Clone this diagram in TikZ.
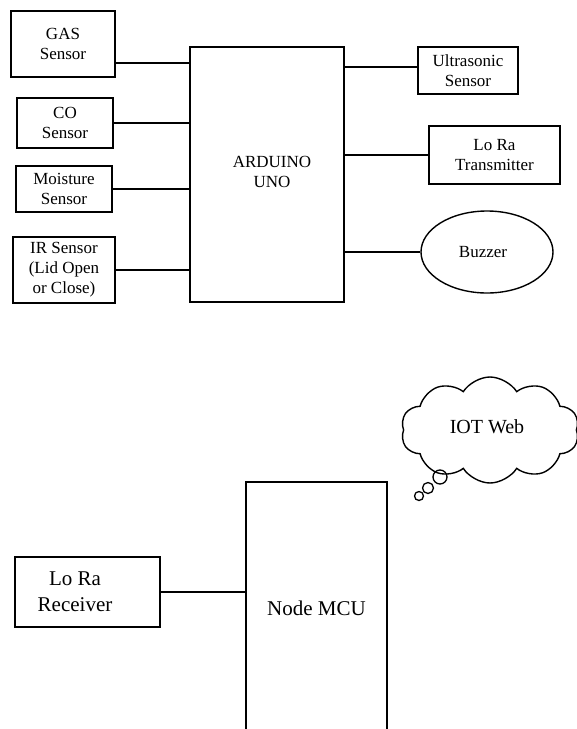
\documentclass[tikz,border=0pt]{standalone}
\usepackage{fontspec}
\setmainfont{Liberation Serif}
\usetikzlibrary{shapes.geometric,shapes.symbols}
\begin{document}
\begin{tikzpicture}[x=1pt,y=-1pt,
  every node/.style={inner sep=0pt},
  topbox/.style={draw, line width=1.4pt, rectangle, align=center,
     font=\fontsize{17}{20}\selectfont},
  botbox/.style={draw, line width=1.4pt, rectangle, align=center,
     font=\fontsize{21}{26}\selectfont},
  botlabel/.style={align=center, font=\fontsize{21}{26}\selectfont},
  wire/.style={line width=1.6pt}]
\useasboundingbox (0,0) rectangle (577,729);
\clip (0,0) rectangle (577,729);
% top part
\node[topbox, minimum width=104pt, minimum height=66pt] (gas) at (63,44) {GAS\\Sensor};
\node[topbox, minimum width=96pt, minimum height=50pt] (co) at (65,123) {CO\\Sensor};
\node[topbox, minimum width=96pt, minimum height=46pt] (moist) at (64,189) {Moisture\\Sensor};
\node[topbox, minimum width=102pt, minimum height=66pt] (ir) at (64,270) {IR Sensor\\(Lid Open\\or Close)};
\node[topbox, minimum width=154pt, minimum height=255pt] (ard) at (267,174.5) {};
\node[align=center, font=\fontsize{17}{20}\selectfont] (ardtxt) at (272,172) {ARDUINO\\UNO};
\node[topbox, minimum width=100pt, minimum height=47pt] (ultra) at (468,70.5) {Ultrasonic\\Sensor};
\node[topbox, minimum width=131pt, minimum height=58pt] (lorat) at (494.5,155) {Lo Ra\\Transmitter};
\node[topbox, ellipse, minimum width=132pt, minimum height=82pt] (buzz) at (487,252) {};
\node[font=\fontsize{17}{20}\selectfont] (buzztxt) at (483,252) {Buzzer};
% connectors top
\draw[wire] ([yshift=-19pt]gas.east) coordinate (g1) -- (g1 -| ard.west);
\draw[wire] (co.east) -- (co.east -| ard.west);
\draw[wire] (moist.east) -- (moist.east -| ard.west);
\draw[wire] (ir.east) -- (ir.east -| ard.west);
\draw[wire] ([yshift=3.5pt]ultra.west) coordinate (u1) -- (u1 -| ard.east);
\draw[wire] (lorat.west) -- (lorat.west -| ard.east);
\draw[wire] (buzz.west) -- (buzz.west -| ard.east);
% bottom part
\node[botbox, minimum width=145pt, minimum height=70pt] (lorar) at (87.5,592) {};
\node[botlabel] (lorartxt) at (75,592) {Lo Ra\\Receiver};
\node[botbox, minimum width=141pt, minimum height=252pt] (mcu) at (316.5,608) {Node MCU};
\draw[wire] (lorar.east) -- (lorar.east -| mcu.west);
% cloud
\node[cloud, draw, line width=1.4pt, cloud puffs=10, cloud puff arc=115, aspect=1.7,
      minimum width=178pt, minimum height=106pt] (cloud) at (490,430) {};
\node[font=\fontsize{20}{24}\selectfont] (cloudtxt) at (487,427) {IOT Web};
\draw[line width=1.3pt] (440,477) circle (7pt);
\draw[line width=1.3pt] (428,488) circle (5.5pt);
\draw[line width=1.3pt] (419,496) circle (4.5pt);
\end{tikzpicture}
\end{document}
